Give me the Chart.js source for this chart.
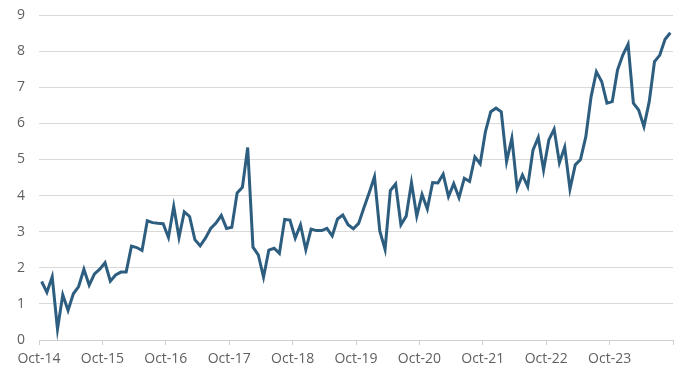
<!DOCTYPE html>
<html>
<head>
<meta charset="utf-8">
<script src="https://cdn.jsdelivr.net/npm/chart.js@4.4.1/dist/chart.umd.min.js"></script>
<style>
  html, body { margin: 0; padding: 0; background: #fff; }
  #wrap { width: 696px; height: 376px; }
</style>
</head>
<body>
<div id="wrap"><canvas id="line_chart" width="696" height="376"></canvas></div>
<script>
// monthly values, Oct-14 .. Sep-24
var values = [
  1.62, 1.32, 1.75, 0.30, 1.25, 0.82, 1.28, 1.48, 1.96, 1.52, 1.83, 1.96,
  2.14, 1.63, 1.80, 1.88, 1.88, 2.60, 2.56, 2.48, 3.30, 3.25, 3.23, 3.22,
  2.84, 3.70, 2.84, 3.55, 3.42, 2.78, 2.61, 2.82, 3.09, 3.24, 3.45, 3.09,
  3.12, 4.07, 4.23, 5.33, 2.57, 2.36, 1.74, 2.49, 2.54, 2.40, 3.34, 3.32,
  2.82, 3.19, 2.50, 3.07, 3.03, 3.03, 3.09, 2.88, 3.35, 3.46, 3.19, 3.08,
  3.23, 3.66, 4.08, 4.52, 3.02, 2.51, 4.14, 4.32, 3.19, 3.43, 4.36, 3.43,
  4.03, 3.63, 4.36, 4.35, 4.59, 3.97, 4.33, 3.94, 4.48, 4.39, 5.07, 4.88,
  5.77, 6.32, 6.42, 6.32, 4.94, 5.59, 4.20, 4.57, 4.25, 5.26, 5.61, 4.71,
  5.54, 5.84, 4.91, 5.34, 4.18, 4.85, 5.00, 5.63, 6.74, 7.43, 7.16, 6.56,
  6.60, 7.48, 7.89, 8.19, 6.56, 6.37, 5.91, 6.60, 7.71, 7.89, 8.33, 8.51
];

var tickLabels = ['Oct-14', 'Oct-15', 'Oct-16', 'Oct-17', 'Oct-18',
                  'Oct-19', 'Oct-20', 'Oct-21', 'Oct-22', 'Oct-23'];

var yTicks = [0, 1, 2, 3, 4, 5, 6, 7, 8, 9];

// each point sits in the middle of its month slot
var points = [];
values.forEach(function (v, i) {
  points.push({ x: i + 0.5, y: v });
});

var ctx = document.getElementById('line_chart').getContext('2d');

var chartInstance = new Chart(ctx, {
  type: 'line',
  data: {
    datasets: [{
      data: points,
      borderColor: '#2d5e80',
      borderWidth: 3,
      pointRadius: 0,
      tension: 0,
      fill: false
    }]
  },
  options: {
    responsive: false,
    maintainAspectRatio: false,
    animation: false,
    layout: { padding: { top: 15, right: 23, left: 0, bottom: 0 } },
    plugins: { legend: { display: false }, tooltip: { enabled: false } },
    scales: {
      x: {
        type: 'linear',
        min: 0,
        max: values.length,
        afterBuildTicks: function (scale) {
          scale.ticks = [];
          for (var i = 0; i <= values.length; i += 12) scale.ticks.push({ value: i });
        },
        afterFit: function (scale) { scale.height = 36; },
        grid: {
          drawOnChartArea: false,
          drawTicks: true,
          tickLength: 5,
          color: '#d0d0d0'
        },
        border: { display: true, color: '#d0d0d0', width: 1 },
        ticks: {
          autoSkip: false,
          maxRotation: 0,
          padding: 6,
          color: '#606060',
          font: { family: 'Open Sans', size: 14 },
          callback: function (v) {
            return tickLabels[v / 12] || '';
          }
        }
      },
      y: {
        min: yTicks[0],
        max: yTicks[yTicks.length - 1],
        afterBuildTicks: function (scale) {
          scale.ticks = yTicks.map(function (t) { return { value: t }; });
        },
        afterFit: function (scale) {
          scale.width = 39;
          scale.paddingTop = 0;
          scale.paddingBottom = 0;
        },
        grid: { color: '#d9d9d9', drawTicks: false, lineWidth: 1 },
        border: { display: false },
        ticks: {
          padding: 14,
          color: '#606060',
          font: { family: 'Open Sans', size: 14 }
        }
      }
    }
  }
});
</script>
</body>
</html>
